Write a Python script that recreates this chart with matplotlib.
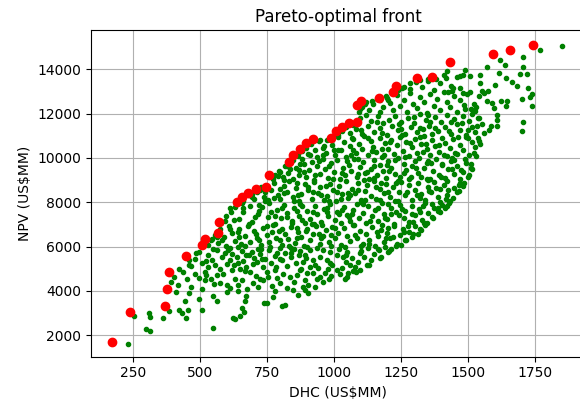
import matplotlib
matplotlib.use("Agg")
import matplotlib.pyplot as plt

# Pareto-optimal points (DHC, NPV)
pareto_dhc = [173, 240, 368, 376, 384, 447, 509, 517, 568, 571, 639, 656, 680, 709, 745,
              757, 832, 848, 873, 896, 920, 988, 1007, 1028, 1057, 1084, 1087, 1099, 1169,
              1218, 1230, 1308, 1364, 1433, 1593, 1658, 1741]
pareto_npv = [1700, 3040, 3335, 4075, 4840, 5565, 6087, 6357, 6600, 7097, 8013, 8250, 8405,
              8600, 8700, 9217, 9803, 10133, 10403, 10660, 10855, 10885, 11215, 11410, 11590,
              11610, 12390, 12570, 12720, 12990, 13260, 13620, 13650, 14340, 14675, 14880, 15095]

# all evaluated solutions, grouped by NPV band
pts_2k = [(232, 1610), (300, 2300), (312, 2200), (547, 2350), (255, 2870), (314, 2840),
          (361, 2800), (432, 2990), (448, 2800), (624, 2780), (649, 2870), (630, 2740)]
pts_3k = [(308, 3020), (385, 3090), (423, 3130), (454, 3160), (508, 3140), (665, 3070),
          (656, 3240), (740, 3440), (805, 3300), (817, 3370), (411, 3970), (460, 3930),
          (444, 3560), (496, 3650), (550, 3750), (562, 3560), (600, 3970), (667, 3530),
          (748, 3460), (773, 3740), (866, 3820), (904, 3890), (673, 3750)]
pts_4k = [(401, 4630), (418, 4280), (436, 4860), (450, 4540), (468, 4180), (482, 4750),
          (497, 4600), (508, 4080), (518, 4490), (522, 4720), (539, 4560), (520, 4870),
          (551, 4300), (562, 4710), (574, 4370), (587, 4780), (599, 4270), (611, 4120),
          (618, 4930), (630, 4560), (642, 4250), (655, 4490), (668, 4880), (674, 4100),
          (686, 4850), (698, 4340), (710, 4660), (717, 4190), (723, 4560), (736, 4490),
          (748, 4850), (755, 4640), (767, 4230), (779, 4960), (786, 4570), (798, 4370),
          (810, 4780), (823, 4120), (836, 4640), (848, 4040), (852, 4420), (861, 4720),
          (873, 4950), (885, 4190), (891, 4490), (898, 4800), (904, 4270), (922, 4800),
          (935, 4560), (947, 4640), (960, 4420), (966, 4800), (978, 4970), (990, 4660),
          (1010, 4950), (1022, 4750), (1047, 4640), (1053, 4800), (1070, 4900), (1097, 4950),
          (892, 4060), (780, 4010), (640, 4020)]
pts_5k = [(457, 5180), (467, 5120), (480, 5420), (495, 5760), (509, 5280), (523, 5370),
          (528, 5080), (531, 5610), (543, 5400), (548, 5890), (557, 5170), (565, 5840),
          (574, 5000), (582, 5520), (594, 5700), (600, 5220), (613, 5940), (618, 5660),
          (625, 5150), (637, 5510), (643, 5960), (649, 5000), (656, 5780), (662, 5370),
          (673, 5070), (681, 5620), (692, 5740), (699, 5210), (711, 5290), (718, 5900),
          (723, 5660), (735, 5070), (741, 5450), (756, 5830), (763, 5280), (778, 5580),
          (785, 5060), (797, 5930), (805, 5390), (818, 5690), (826, 5140), (838, 5510),
          (849, 5870), (857, 5250), (869, 5620), (876, 5010), (885, 5320), (891, 5620),
          (899, 5960), (910, 5090), (910, 5850), (922, 5400), (935, 5920), (941, 5020),
          (947, 5540), (960, 5850), (972, 5400), (985, 5770), (991, 5170), (1010, 5620),
          (1028, 5020), (1034, 5540), (1046, 5290), (1059, 5170), (1066, 5470), (1078, 5090),
          (1090, 5320), (1097, 5710), (1112, 5540), (1125, 5930), (1138, 5380), (1150, 5660),
          (1163, 5870), (1176, 5520), (1189, 5990), (1201, 5760), (1213, 5900), (1122, 5160),
          (1020, 5880), (1050, 5760), (840, 5720), (760, 5960), (700, 5480), (610, 5380)]
pts_6k = [(528, 6060), (541, 6290), (556, 6510), (567, 6180), (574, 6780), (589, 6420),
          (597, 6050), (608, 6940), (619, 6630), (631, 6270), (644, 6810), (652, 6110),
          (668, 6490), (679, 6920), (687, 6230), (702, 6690), (714, 6370), (726, 6060),
          (735, 6860), (748, 6540), (759, 6200), (771, 6980), (783, 6410), (794, 6720),
          (806, 6090), (818, 6560), (829, 6330), (841, 6890), (853, 6150), (864, 6640),
          (876, 6420), (887, 6010), (899, 6790), (911, 6280), (922, 6570), (934, 6950),
          (946, 6120), (957, 6460), (969, 6730), (980, 6230), (992, 6900), (1003, 6370),
          (1015, 6620), (1026, 6080), (1038, 6830), (1049, 6500), (1061, 6250), (1072, 6960),
          (1084, 6410), (1095, 6710), (1107, 6140), (1118, 6580), (1130, 6320), (1141, 6880),
          (1153, 6050), (1164, 6490), (1176, 6770), (1187, 6210), (1199, 6620), (1210, 6380),
          (1222, 6940), (1233, 6110), (1245, 6540), (1256, 6800), (1268, 6290), (1279, 6680),
          (1291, 6450), (1302, 6910), (1314, 6580), (1326, 6760), (1339, 6990), (1250, 6060),
          (1180, 6960), (990, 6520), (860, 6850), (720, 6310), (640, 6660), (1100, 6010),
          (950, 6380), (800, 6310), (1200, 6820)]
pts_7k = [(578, 7080), (596, 7390), (611, 7720), (633, 7930), (647, 7240), (661, 7560),
          (688, 7850), (694, 7110), (716, 7470), (731, 7780), (752, 7330), (758, 7960),
          (779, 7020), (786, 7640), (803, 7290), (815, 7870), (826, 7510), (842, 7140),
          (851, 7760), (868, 7380), (874, 7940), (893, 7060), (899, 7610), (912, 7250),
          (927, 7830), (938, 7470), (951, 7120), (963, 7700), (977, 7360), (984, 7910),
          (1002, 7220), (1011, 7580), (1026, 7050), (1037, 7790), (1049, 7410), (1058, 7170),
          (1072, 7660), (1085, 7900), (1093, 7300), (1107, 7530), (1119, 7080), (1126, 7820),
          (1141, 7380), (1152, 7640), (1163, 7150), (1178, 7950), (1186, 7460), (1198, 7260),
          (1211, 7730), (1223, 7040), (1232, 7560), (1247, 7880), (1259, 7310), (1266, 7620),
          (1281, 7130), (1292, 7840), (1303, 7420), (1318, 7680), (1327, 7210), (1341, 7950),
          (1352, 7500), (1366, 7330), (1374, 7760), (1389, 7590), (1402, 7880), (1415, 7720),
          (1428, 7960), (1336, 7060), (1244, 7410), (1165, 7720), (1068, 7460), (973, 7570),
          (882, 7180), (805, 7720), (720, 7610), (655, 7950), (1201, 7920), (1100, 7990),
          (1030, 7660), (925, 7010), (860, 7590), (1395, 7990), (1290, 7470)]
pts_8k = [(662, 8060), (684, 8310), (701, 8150), (713, 8470), (728, 8690), (737, 8240),
          (752, 8080), (766, 8560), (774, 8870), (789, 8330), (797, 8130), (812, 8720),
          (824, 8460), (833, 8950), (847, 8220), (858, 8640), (869, 8050), (877, 8390),
          (891, 8810), (904, 8570), (916, 8170), (925, 8930), (939, 8430), (948, 8680),
          (961, 8110), (972, 8290), (986, 8840), (995, 8560), (1008, 8040), (1019, 8750),
          (1031, 8370), (1044, 8980), (1053, 8190), (1067, 8620), (1079, 8430), (1088, 8880),
          (1102, 8090), (1114, 8520), (1123, 8760), (1137, 8300), (1149, 8940), (1158, 8130),
          (1171, 8610), (1185, 8410), (1192, 8830), (1207, 8240), (1219, 8690), (1228, 8050),
          (1243, 8480), (1251, 8910), (1266, 8330), (1278, 8760), (1289, 8120), (1301, 8550),
          (1313, 8870), (1326, 8360), (1338, 8080), (1349, 8680), (1361, 8450), (1374, 8920),
          (1386, 8220), (1397, 8590), (1409, 8790), (1421, 8340), (1434, 8060), (1447, 8660),
          (1458, 8480), (1469, 8890), (1482, 8720), (1350, 8990), (1240, 8980), (1110, 8990),
          (980, 8070), (1200, 8470), (1060, 8320), (920, 8460), (800, 8590), (860, 8890),
          (1320, 8210), (1420, 8970), (1170, 8080), (1010, 8480)]
pts_9k = [(772, 9060), (781, 9220), (796, 9410), (809, 9130), (818, 9620), (829, 9330),
          (841, 9820), (846, 9050), (857, 9560), (868, 9240), (879, 9930), (887, 9710),
          (896, 9150), (908, 9440), (917, 9830), (926, 9020), (938, 9620), (947, 9280),
          (959, 9950), (966, 9490), (978, 9110), (989, 9760), (999, 9360), (1012, 9890),
          (1021, 9030), (1033, 9550), (1042, 9240), (1055, 9700), (1063, 9420), (1076, 9970),
          (1084, 9130), (1097, 9610), (1108, 9820), (1116, 9300), (1129, 9050), (1138, 9520),
          (1150, 9900), (1159, 9210), (1171, 9690), (1182, 9400), (1194, 9080), (1203, 9850),
          (1214, 9560), (1226, 9270), (1238, 9980), (1247, 9130), (1259, 9720), (1268, 9450),
          (1279, 9040), (1292, 9620), (1301, 9880), (1313, 9330), (1324, 9160), (1336, 9540),
          (1348, 9790), (1357, 9060), (1369, 9420), (1381, 9950), (1390, 9250), (1402, 9680),
          (1413, 9110), (1425, 9500), (1436, 9860), (1448, 9290), (1459, 9640), (1470, 9070),
          (1482, 9380), (1494, 9770), (1505, 9250), (1512, 9540), (1440, 9990), (1318, 9990),
          (1205, 9420), (1090, 9260), (980, 9630), (870, 9440), (1150, 9630), (1260, 9330),
          (1350, 9880)]
pts_10k = [(866, 10080), (879, 10290), (893, 10510), (902, 10170), (915, 10650), (927, 10380),
           (936, 10060), (948, 10790), (957, 10460), (969, 10230), (981, 10870), (993, 10590),
           (1004, 10110), (1016, 10950), (1025, 10350), (1037, 10720), (1046, 10040),
           (1058, 10530), (1069, 10860), (1081, 10240), (1092, 10630), (1104, 10420),
           (1113, 10990), (1125, 10120), (1136, 10760), (1147, 10510), (1158, 10280),
           (1170, 10900), (1179, 10050), (1191, 10660), (1203, 10390), (1212, 10830),
           (1224, 10170), (1235, 10580), (1247, 10960), (1256, 10310), (1268, 10740),
           (1279, 10090), (1290, 10480), (1302, 10870), (1311, 10220), (1323, 10640),
           (1334, 10990), (1346, 10400), (1357, 10130), (1366, 10790), (1378, 10550),
           (1390, 10260), (1401, 10920), (1413, 10680), (1422, 10070), (1434, 10430),
           (1445, 10850), (1457, 10190), (1468, 10600), (1480, 10370), (1491, 10950),
           (1503, 10120), (1514, 10740), (1526, 10480), (1537, 10880), (1545, 10650),
           (1180, 10420), (1070, 10350), (1320, 10950), (960, 10120)]
pts_11k = [(1013, 11050), (1029, 11230), (1044, 11410), (1058, 11120), (1072, 11530),
           (1083, 11300), (1096, 11780), (1105, 11070), (1118, 11950), (1127, 11420),
           (1139, 11660), (1150, 11180), (1162, 11870), (1171, 11340), (1184, 11560),
           (1196, 11020), (1205, 11730), (1217, 11460), (1228, 11910), (1240, 11250),
           (1251, 11630), (1263, 11080), (1274, 11810), (1286, 11390), (1297, 11560),
           (1309, 11150), (1320, 11980), (1331, 11300), (1343, 11700), (1354, 11460),
           (1366, 11060), (1377, 11850), (1389, 11220), (1400, 11610), (1412, 11390),
           (1423, 11940), (1435, 11100), (1446, 11750), (1458, 11520), (1469, 11270),
           (1481, 11880), (1492, 11030), (1504, 11660), (1515, 11400), (1527, 11180),
           (1538, 11800), (1552, 11520), (1559, 11120), (1577, 11270), (1584, 11420),
           (1606, 11730), (1609, 11420), (1540, 11800), (1700, 11230), (1704, 11630),
           (1160, 11620), (1350, 11950), (1250, 11300)]
pts_12k = [(1093, 12080), (1104, 12310), (1118, 12530), (1131, 12150), (1146, 12420),
           (1159, 12640), (1170, 12050), (1183, 12290), (1196, 12710), (1208, 12470),
           (1221, 12180), (1234, 12860), (1246, 12350), (1259, 12600), (1271, 12090),
           (1284, 12920), (1296, 12430), (1309, 12240), (1321, 12750), (1334, 12510),
           (1346, 12020), (1359, 12880), (1371, 12360), (1384, 12650), (1396, 12160),
           (1409, 12970), (1421, 12540), (1434, 12300), (1446, 12780), (1459, 12070),
           (1471, 12620), (1484, 12400), (1496, 12880), (1509, 12200), (1521, 12410),
           (1527, 12100), (1540, 12790), (1571, 12560), (1590, 12480), (1596, 12260),
           (1621, 12560), (1640, 12330), (1646, 12590), (1606, 11950), (1702, 12640),
           (1731, 12760), (1740, 12900), (1737, 12350), (1560, 12950), (1200, 12600)]
pts_13k = [(1240, 13050), (1262, 13180), (1285, 13090), (1306, 13420), (1328, 13210),
           (1350, 13560), (1372, 13070), (1394, 13380), (1416, 13610), (1438, 13240),
           (1457, 13660), (1471, 13700), (1482, 13740), (1490, 13970), (1506, 13700),
           (1544, 13740), (1546, 13390), (1552, 13015), (1575, 13015), (1616, 13820),
           (1662, 13440), (1681, 13260), (1693, 13790), (1718, 13770), (1724, 13140),
           (1470, 13140), (1445, 13140), (1426, 12990), (1507, 12990), (1600, 13300),
           (1640, 13600), (1420, 13900)]
pts_14k = [(1569, 14110), (1619, 14420), (1637, 14190), (1703, 14110), (1706, 14540),
           (1768, 14870), (1851, 15060)]

# second pass over the dense middle of the cloud
pts_mid = [(583, 6310), (604, 5830), (627, 7180), (646, 6420), (659, 7720), (671, 5620),
           (684, 7040), (695, 8240), (707, 6560), (719, 7880), (732, 5440), (744, 8460),
           (751, 6930), (763, 7560), (776, 8180), (788, 5710), (792, 9180), (807, 6780),
           (814, 8410), (823, 7340), (835, 9480), (839, 5930), (852, 8060), (861, 6370),
           (873, 9710), (881, 7820), (894, 5480), (903, 8690), (911, 10120), (918, 7040),
           (930, 9250), (943, 6580), (952, 8320), (961, 10540), (974, 7760), (983, 5260),
           (996, 9050), (1005, 6840), (1014, 10380), (1027, 8150), (1039, 5960), (1048, 9860),
           (1057, 7330), (1066, 10920), (1079, 6530), (1088, 8540), (1099, 11240), (1109, 7910),
           (1121, 9380), (1132, 6140), (1143, 10310), (1155, 8680), (1166, 5840), (1177, 11140),
           (1189, 7270), (1198, 9690), (1209, 10740), (1220, 6450), (1231, 8880), (1243, 11520),
           (1254, 7690), (1265, 10040), (1276, 6930), (1288, 9150), (1299, 11830), (1310, 8330),
           (1322, 7560), (1333, 10280), (1345, 9040), (1356, 11640), (1367, 7940), (1379, 8650),
           (1391, 10570), (1404, 9730), (1417, 8160), (1429, 11200), (1441, 9480), (1452, 10230),
           (1465, 8790), (1477, 11560), (1488, 9960), (1499, 10890), (1510, 9720), (1523, 10230),
           (1534, 11440),
           (612, 6780), (641, 5270), (666, 6050), (705, 7320), (728, 5870), (741, 8070),
           (768, 6640), (781, 7380), (799, 5450), (812, 9000), (831, 6020), (844, 7050),
           (866, 8350), (872, 5790), (888, 9360), (897, 6690), (921, 7580), (929, 5160),
           (944, 9880), (956, 6980), (968, 8720), (987, 6040), (999, 10370), (1018, 7470),
           (1031, 9310), (1043, 5620), (1052, 8410), (1064, 10150), (1073, 6960), (1091, 9930),
           (1102, 5790), (1116, 8120), (1127, 10880), (1135, 7140), (1148, 9090), (1161, 6640),
           (1174, 8870), (1186, 10150), (1193, 6400), (1214, 7480), (1227, 9900), (1239, 8070),
           (1252, 11050), (1262, 6650), (1273, 8450), (1285, 10690), (1296, 7100), (1307, 9530),
           (1319, 11350), (1330, 7820), (1342, 10640), (1354, 8530), (1363, 9760), (1376, 11330),
           (1386, 7760), (1398, 9160), (1411, 10130), (1424, 8540), (1437, 11600), (1449, 9890),
           (1462, 10960), (1475, 9450), (1487, 12220), (1498, 11270), (1515, 12000),
           (1530, 12300), (1480, 12950), (1440, 13000)]

# solutions hugging the front, just under the red points
pts_front = [(390, 4400), (420, 4970), (460, 5400), (485, 5700), (515, 6200), (545, 6350),
             (562, 6420), (592, 7150), (615, 7560), (632, 7780), (662, 8170), (692, 8380),
             (722, 8560), (770, 9120), (800, 9380), (825, 9650), (845, 9900), (870, 10250),
             (895, 10450), (915, 10700), (945, 10780), (975, 10820), (1000, 11000),
             (1020, 11230), (1045, 11440), (1070, 11480), (1095, 12200), (1115, 12450),
             (1140, 12580), (1170, 12620), (1195, 12790), (1225, 12920), (1255, 13150),
             (1285, 13400), (1320, 13520), (1350, 13480), (1380, 13540), (1410, 13750)]

# solutions along the lower-right edge of the cloud
pts_edge = [(930, 4180), (980, 4520), (1040, 4560), (1080, 4840), (1130, 5180), (1170, 5470),
            (1205, 5800), (1230, 6020), (1265, 6300), (1295, 6560), (1320, 6800), (1345, 7050),
            (1370, 7300), (1395, 7560), (1420, 7850), (1445, 8200), (1465, 8500), (1485, 8850),
            (1500, 9150), (1515, 9500), (1530, 10100), (1542, 10750)]

cloud = pts_2k + pts_3k + pts_4k + pts_5k + pts_6k + pts_7k + pts_8k + pts_9k + \
    pts_10k + pts_11k + pts_12k + pts_13k + pts_14k + pts_mid + pts_front + pts_edge
cloud_dhc = [p[0] for p in cloud]
cloud_npv = [p[1] for p in cloud]

fig = plt.figure(figsize=(5.8, 4.07), dpi=100)
ax = fig.add_axes([0.1564, 0.1236, 0.854, 0.8027])

ax.plot(cloud_dhc, cloud_npv, 'g.')
ax.plot(pareto_dhc, pareto_npv, 'ro')

ax.set_xlim(92, 1940)
ax.set_ylim(1035, 15770)
ax.set_xticks([250, 500, 750, 1000, 1250, 1500, 1750])
ax.set_yticks([2000, 4000, 6000, 8000, 10000, 12000, 14000])
ax.grid(True)

ax.set_title('Pareto-optimal front')
ax.set_xlabel('DHC (US$MM)')
ax.set_ylabel('NPV (US$MM)')

fig.savefig('out.png', dpi=100)
